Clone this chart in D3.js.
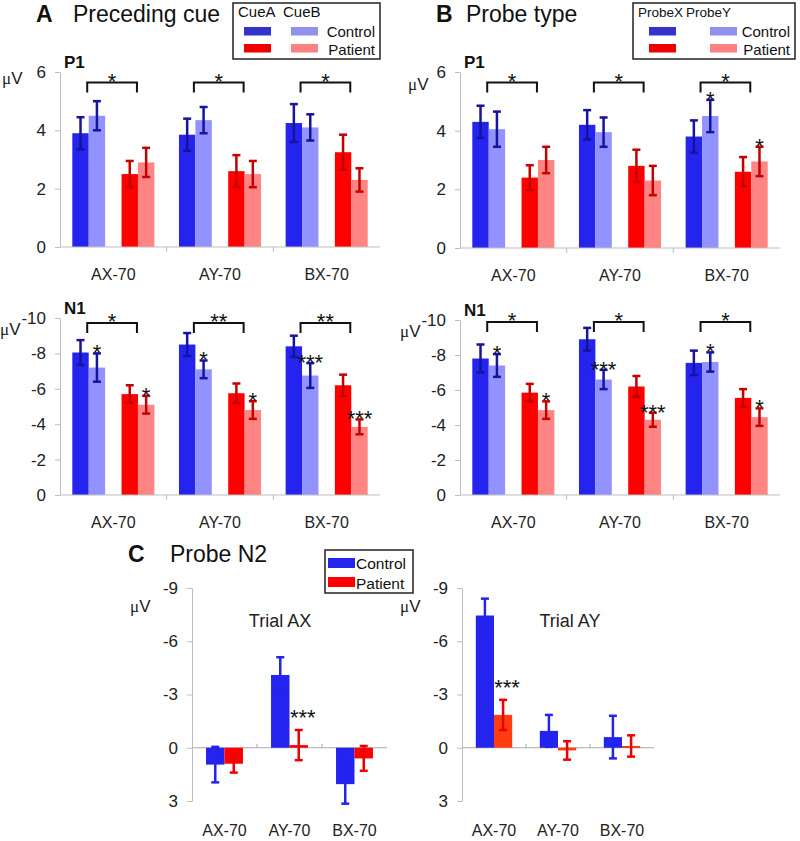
<!DOCTYPE html>
<html>
<head>
<meta charset="utf-8">
<script src="https://cdn.jsdelivr.net/npm/d3@7"></script>
<style>
  body { margin: 0; background: #fff; }
  svg { display: block; font-family: Arial, "Liberation Sans", sans-serif; }
</style>
</head>
<body>
<svg id="fig" width="800" height="841"></svg>
<script>
const conditions = ['AX-70', 'AY-70', 'BX-70'];
const groups = ['Control', 'Patient'];
const cueLevels = ['CueA', 'CueB'];
const probeLevels = ['ProbeX', 'ProbeY'];

// per condition: [control lvl1, control lvl2, patient lvl1, patient lvl2]
const cueP1Mean = [[3.9, 4.5, 2.5, 2.9], [3.85, 4.35, 2.6, 2.5], [4.25, 4.1, 3.25, 2.3]];
const cueP1Err = [[0.55, 0.5, 0.45, 0.5], [0.55, 0.45, 0.55, 0.45], [0.65, 0.45, 0.6, 0.4]];
const cueP1Stars = [['', '', '', ''], ['', '', '', ''], ['', '', '', '']];
const cueP1Bracket = ['*', '*', '*'];

const cueN1Mean = [[-8.05, -7.2, -5.7, -5.1], [-8.5, -7.1, -5.75, -4.8], [-8.4, -6.75, -6.2, -3.85]];
const cueN1Err = [[0.7, 0.8, 0.5, 0.5], [0.65, 0.5, 0.55, 0.5], [0.6, 0.7, 0.6, 0.42]];
const cueN1Stars = [['', '*', '', '*'], ['', '*', '', '*'], ['', '***', '', '***']];
const cueN1Bracket = ['*', '**', '**'];

const probeP1Mean = [[4.3, 4.05, 2.4, 3.0], [4.2, 3.95, 2.8, 2.3], [3.8, 4.5, 2.6, 2.95]];
const probeP1Err = [[0.55, 0.6, 0.42, 0.45], [0.5, 0.5, 0.55, 0.5], [0.55, 0.55, 0.5, 0.5]];
const probeP1Stars = [['', '', '', ''], ['', '', '', ''], ['', '*', '', '*']];
const probeP1Bracket = ['*', '*', '*'];

const probeN1Mean = [[-7.8, -7.4, -5.85, -4.85], [-8.9, -6.6, -6.2, -4.3], [-7.55, -7.6, -5.55, -4.45]];
const probeN1Err = [[0.8, 0.65, 0.5, 0.5], [0.65, 0.55, 0.6, 0.4], [0.7, 0.55, 0.5, 0.5]];
const probeN1Stars = [['', '*', '', '*'], ['', '***', '', '***'], ['', '*', '', '*']];
const probeN1Bracket = ['*', '*', '*'];

// per condition: [control, patient]
const n2AXMean = [[0.95, 0.9], [-4.1, -0.15], [2.05, 0.6]];
const n2AXErr = [[1.0, 0.5], [1.0, 0.85], [1.1, 0.7]];
const n2AXStars = [['', ''], ['', '***'], ['', '']];
const n2AYMean = [[-7.45, -1.85], [-0.95, 0.15], [-0.6, -0.1]];
const n2AYErr = [[0.95, 0.85], [0.9, 0.52], [1.2, 0.6]];
const n2AYStars = [['', '***'], ['', ''], ['', '']];

const p1Ticks = [0, 2, 4, 6];
const n1Ticks = [0, -2, -4, -6, -8, -10];
const n2Ticks = [-9, -6, -3, 0, 3];

const svg = d3.select('#fig');
const AXIS = '#bdbdbd';
const fill4 = ['#2424ee', '#9393ff', '#ff0000', '#ff8585'];
const err4 = ['#16149c', '#16149c', '#c40000', '#c40000'];

function yAxis(y, left, ticks) {
  const ax = svg.append('g')
    .attr('transform', `translate(${left},0)`)
    .call(d3.axisLeft(y).tickValues(ticks).tickSize(5).tickSizeOuter(0)
      .tickPadding(9).tickFormat(d => String(d)));
  ax.select('.domain').attr('stroke', AXIS);
  ax.selectAll('.tick line').attr('stroke', AXIS);
  ax.selectAll('.tick text').attr('fill', '#222').attr('font-size', '17px')
    .attr('font-family', 'Arial, "Liberation Sans", sans-serif');
}

function errorBar(g, cx, y, v, e, color, cap) {
  const y1 = y(v - e), y2 = y(v + e);
  g.append('line').attr('x1', cx).attr('x2', cx).attr('y1', y1).attr('y2', y2)
    .attr('stroke', color).attr('stroke-width', 2.5);
  [y1, y2].forEach(yy => g.append('line')
    .attr('x1', cx - cap / 2).attr('x2', cx + cap / 2).attr('y1', yy).attr('y2', yy)
    .attr('stroke', color).attr('stroke-width', 2.5));
  return Math.min(y1, y2);
}

function unit(x, yb) {
  const t = svg.append('text').attr('x', x).attr('y', yb).attr('font-size', '17px').attr('fill', '#222');
  t.append('tspan').attr('font-family', '"Liberation Serif", serif').text('μ');
  t.append('tspan').text('V');
}

function groupedPanel({ means, errs, stars, brackets, left, width, top, bottom, domain, ticks, bracketDy, sub }) {
  const x0 = d3.scaleBand().domain(conditions).range([left, left + width]);
  const xi = d3.scaleBand().domain(d3.range(5)).range([0, x0.bandwidth()]).paddingOuter(0.75);
  const slots = [0, 1, 3, 4];
  const y = d3.scaleLinear().domain(domain).range([bottom, top]);
  const g = svg.append('g');

  conditions.forEach((c, ci) => {
    means[ci].forEach((v, k) => {
      const bx = x0(c) + xi(slots[k]);
      g.append('rect').attr('x', bx).attr('width', xi.bandwidth())
        .attr('y', Math.min(y(0), y(v))).attr('height', Math.abs(y(0) - y(v)))
        .attr('fill', fill4[k]);
    });
    means[ci].forEach((v, k) => {
      const cx = x0(c) + xi(slots[k]) + xi.bandwidth() / 2;
      const yt = errorBar(g, cx, y, v, errs[ci][k], err4[k], 8);
      if (stars[ci][k]) {
        g.append('text').attr('x', cx).attr('y', yt + 7).attr('text-anchor', 'middle')
          .attr('font-size', '22px').attr('fill', '#111').text(stars[ci][k]);
      }
    });
    // bracket between groups
    const bx1 = x0(c) + xi(1) - 1.5, bx2 = x0(c) + xi(4) - 1, by = top + bracketDy;
    g.append('path').attr('d', `M${bx1},${by + 10}V${by}H${bx2}V${by + 10}`)
      .attr('fill', 'none').attr('stroke', '#111').attr('stroke-width', 2);
    g.append('text').attr('x', (bx1 + bx2) / 2).attr('y', by + 6).attr('text-anchor', 'middle')
      .attr('font-size', '22px').attr('fill', '#111').text(brackets[ci]);
    // category label
    g.append('text').attr('x', x0(c) + x0.bandwidth() / 2).attr('y', bottom + 33)
      .attr('text-anchor', 'middle').attr('font-size', '16px').attr('fill', '#222').text(c);
  });

  g.append('line').attr('x1', left).attr('x2', left + width).attr('y1', y(0)).attr('y2', y(0))
    .attr('stroke', AXIS);
  conditions.slice(1).forEach(c => g.append('line')
    .attr('x1', x0(c)).attr('x2', x0(c)).attr('y1', y(0)).attr('y2', y(0) + 5).attr('stroke', AXIS));
  yAxis(y, left, ticks);

  svg.append('text').attr('x', left + 4).attr('y', top - 4).attr('font-size', '17px')
    .attr('font-weight', 'bold').attr('fill', '#111').text(sub);
}

function n2Panel({ means, errs, stars, left, width, top, bottom, patientFill, title, titleX }) {
  const x0 = d3.scaleBand().domain(conditions).range([left, left + width]);
  const xi = d3.scaleBand().domain(d3.range(2)).range([0, x0.bandwidth()]).paddingOuter(0.76);
  const y = d3.scaleLinear().domain([3, -9]).range([bottom, top]);
  const fills = ['#2424ee', patientFill];
  const errc = ['#2424ee', '#ee0000'];
  const g = svg.append('g');

  g.append('line').attr('x1', left).attr('x2', left + width).attr('y1', y(0)).attr('y2', y(0))
    .attr('stroke', '#a8a8a8');
  conditions.slice(1).forEach(c => g.append('line')
    .attr('x1', x0(c)).attr('x2', x0(c)).attr('y1', y(0)).attr('y2', y(0) - 4).attr('stroke', '#a8a8a8'));

  conditions.forEach((c, ci) => {
    means[ci].forEach((v, k) => {
      const bx = x0(c) + xi(k);
      g.append('rect').attr('x', bx).attr('width', xi.bandwidth())
        .attr('y', Math.min(y(0), y(v))).attr('height', Math.max(2, Math.abs(y(0) - y(v))))
        .attr('fill', fills[k]);
    });
    means[ci].forEach((v, k) => {
      const cx = x0(c) + xi(k) + xi.bandwidth() / 2;
      const yt = errorBar(g, cx, y, v, errs[ci][k], errc[k], 8);
      if (stars[ci][k]) {
        g.append('text').attr('x', cx + 4).attr('y', yt - 5).attr('text-anchor', 'middle')
          .attr('font-size', '22px').attr('fill', '#111').text(stars[ci][k]);
      }
    });
    g.append('text').attr('x', x0(c) + x0.bandwidth() / 2).attr('y', 836)
      .attr('text-anchor', 'middle').attr('font-size', '16px').attr('fill', '#222').text(c);
  });
  yAxis(y, left, n2Ticks);
  svg.append('text').attr('x', titleX).attr('y', 627).attr('text-anchor', 'middle')
    .attr('font-size', '18px').attr('fill', '#222').text(title);
}

// Panel headings
function heading(letter, lx, text, tx, yb) {
  svg.append('text').attr('x', lx).attr('y', yb).attr('font-size', '23px').attr('font-weight', 'bold')
    .attr('fill', '#111').text(letter);
  svg.append('text').attr('x', tx).attr('y', yb).attr('font-size', '23px').attr('fill', '#111').text(text);
}
heading('A', 36, 'Preceding cue', 73, 22);
heading('B', 436, 'Probe type', 466, 22);
heading('C', 128, 'Probe N2', 170, 562);

// Legends for A and B
function legend4(bx, bw, levels, lvlSize, lvl2x, sw1, sw2) {
  svg.append('rect').attr('x', bx).attr('y', 3).attr('width', bw).attr('height', 56)
    .attr('fill', '#fff').attr('stroke', '#222').attr('stroke-width', 1.5);
  svg.append('text').attr('x', bx + 5).attr('y', 17).attr('font-size', lvlSize).attr('fill', '#111').text(levels[0]);
  svg.append('text').attr('x', lvl2x).attr('y', 17).attr('font-size', lvlSize).attr('fill', '#111').text(levels[1]);
  const legFill = ['#3333cc', '#9090ee', '#ee0000', '#ff8080'];
  [[sw1, 27], [sw2, 27], [sw1, 44], [sw2, 44]].forEach(([x, y], k) =>
    svg.append('rect').attr('x', x).attr('y', y).attr('width', 27).attr('height', 8.5).attr('fill', legFill[k]));
  groups.forEach((gname, k) => svg.append('text').attr('x', bx + bw - 5).attr('y', 37 + k * 18)
    .attr('text-anchor', 'end').attr('font-size', '15px').attr('fill', '#111').text(gname));
}
legend4(233, 147, cueLevels, '15px', 283, 244, 291);
legend4(633, 162, probeLevels, '13.5px', 686, 649, 710);

// Legend for C
svg.append('rect').attr('x', 325).attr('y', 550).attr('width', 88).attr('height', 43)
  .attr('fill', '#fff').attr('stroke', '#222').attr('stroke-width', 1.5);
groups.forEach((gname, k) => {
  svg.append('rect').attr('x', 328).attr('y', 558 + k * 19).attr('width', 27).attr('height', 10)
    .attr('fill', ['#2424ee', '#ff0000'][k]);
  svg.append('text').attr('x', 356).attr('y', 569 + k * 20).attr('font-size', '15.5px')
    .attr('fill', '#111').text(gname);
});

groupedPanel({ means: cueP1Mean, errs: cueP1Err, stars: cueP1Stars, brackets: cueP1Bracket,
  left: 60, width: 320, top: 72, bottom: 247, domain: [0, 6], ticks: p1Ticks, bracketDy: 10.5, sub: 'P1' });
groupedPanel({ means: cueN1Mean, errs: cueN1Err, stars: cueN1Stars, brackets: cueN1Bracket,
  left: 60, width: 320, top: 318, bottom: 495, domain: [0, -10], ticks: n1Ticks, bracketDy: 5, sub: 'N1' });
groupedPanel({ means: probeP1Mean, errs: probeP1Err, stars: probeP1Stars, brackets: probeP1Bracket,
  left: 460, width: 320, top: 72, bottom: 248, domain: [0, 6], ticks: p1Ticks, bracketDy: 10.5, sub: 'P1' });
groupedPanel({ means: probeN1Mean, errs: probeN1Err, stars: probeN1Stars, brackets: probeN1Bracket,
  left: 460, width: 320, top: 320, bottom: 495, domain: [0, -10], ticks: n1Ticks, bracketDy: 2, sub: 'N1' });

n2Panel({ means: n2AXMean, errs: n2AXErr, stars: n2AXStars, left: 192, width: 195, top: 588, bottom: 801,
  patientFill: '#ff0000', title: 'Trial AX', titleX: 280 });
n2Panel({ means: n2AYMean, errs: n2AYErr, stars: n2AYStars, left: 462, width: 192, top: 588, bottom: 801,
  patientFill: '#ff3c12', title: 'Trial AY', titleX: 570 });

unit(2, 84); unit(0, 335); unit(408, 90); unit(400, 337); unit(130, 612); unit(400, 612);
</script>
</body>
</html>
